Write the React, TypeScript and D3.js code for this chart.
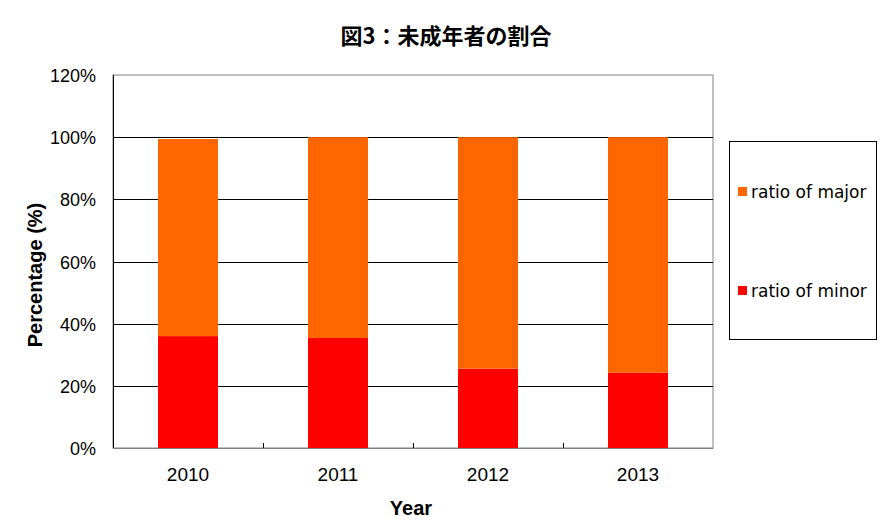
import React from "react";
import * as d3 from "d3";

const years = ["2010", "2011", "2012", "2013"];
const minorPct = [36.0, 35.4, 25.5, 24.2];
const majorPct = [63.4, 64.6, 74.5, 75.8];
const yTicks = [0, 20, 40, 60, 80, 100, 120];
const seriesNames = ["ratio of major", "ratio of minor"];
const seriesColors = ["#FF6600", "#FF0000"];

const W = 886;
const H = 529;
const M = { left: 113, right: 713, top: 75, bottom: 448 };

export default function App() {
  const x = d3.scaleBand<string>().domain(years).range([M.left, M.right]).paddingInner(0.6).paddingOuter(0.3);
  const y = d3.scaleLinear().domain([0, 120]).range([M.bottom, M.top]);
  const band = (M.right - M.left) / years.length;
  const font = "'Liberation Sans', Arial, sans-serif";

  return (
    <svg width={W} height={H} style={{ position: "absolute", left: 0, top: 0 }} xmlns="http://www.w3.org/2000/svg">
      <rect x={0} y={0} width={W} height={H} fill="#fff" />
      <text x={446} y={44} textAnchor="middle" fontFamily="'Noto Sans CJK JP', sans-serif" fontWeight="bold" fontSize={22} fill="#000">
        図3：未成年者の割合
      </text>
      <rect x={M.left} y={M.top} width={M.right - M.left} height={M.bottom - M.top} fill="none" stroke="#808080" strokeWidth={1} />
      {yTicks.slice(1, -1).map((t) => (
        <line key={t} x1={M.left} x2={M.right} y1={Math.round(y(t)) + 0.5} y2={Math.round(y(t)) + 0.5} stroke="#000" strokeWidth={1} />
      ))}
      {years.map((yr, i) => {
        const x0 = x(yr)!;
        const bw = x.bandwidth();
        const top1 = y(minorPct[i]);
        const top2 = y(minorPct[i] + majorPct[i]);
        return (
          <g key={yr}>
            <rect x={x0} y={top1} width={bw} height={M.bottom - top1} fill={seriesColors[1]} />
            <rect x={x0} y={top2} width={bw} height={top1 - top2} fill={seriesColors[0]} />
          </g>
        );
      })}
      <line x1={M.left + 0.5} x2={M.left + 0.5} y1={M.top} y2={M.bottom} stroke="#000" />
      <line x1={M.left} x2={M.right} y1={M.bottom + 0.5} y2={M.bottom + 0.5} stroke="#808080" />
      {years.slice(1).map((yr, i) => {
        const xx = Math.round(M.left + band * (i + 1)) + 0.5;
        return <line key={yr} x1={xx} x2={xx} y1={M.bottom - 5} y2={M.bottom} stroke="#000" />;
      })}
      {yTicks.map((t) => (
        <text key={t} x={96} y={y(t) + 7} textAnchor="end" fontFamily={font} fontSize={18} fill="#000">
          {t}%
        </text>
      ))}
      {years.map((yr) => (
        <text key={yr} x={x(yr)! + x.bandwidth() / 2} y={481} textAnchor="middle" fontFamily={font} fontSize={19} fill="#000">
          {yr}
        </text>
      ))}
      <text x={411} y={515} textAnchor="middle" fontFamily={font} fontWeight="bold" fontSize={20} fill="#000">
        Year
      </text>
      <text transform="translate(42,275) rotate(-90)" textAnchor="middle" fontFamily={font} fontWeight="bold" fontSize={20} fill="#000">
        Percentage (%)
      </text>
      <rect x={729.5} y={141.5} width={147} height={198} fill="none" stroke="#000" />
      {seriesNames.map((n, i) => {
        const cy = i === 0 ? 191 : 290;
        return (
          <g key={n}>
            <rect x={738} y={cy - 4} width={9} height={9} fill={seriesColors[i]} />
            <text x={751} y={cy + 7} fontFamily="'DejaVu Sans', sans-serif" fontSize={17} fill="#000">
              {n}
            </text>
          </g>
        );
      })}
    </svg>
  );
}
